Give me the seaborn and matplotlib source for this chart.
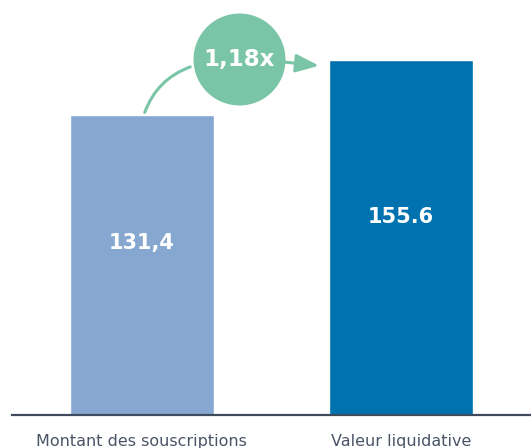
import matplotlib.pyplot as plt
import seaborn as sns
import pandas as pd

# data
categories = ["Montant des souscriptions", "Valeur liquidative"]
values = [131.4, 155.6]
value_labels = ["131,4", "155.6"]
ratio_label = "1,18x"
bar_colors = ["#86a8d0", "#0072b0"]
green = "#7ac5a7"

df = pd.DataFrame({"cat": categories, "val": values})

sns.set_style("white")
plt.rcParams['font.family'] = ['DejaVu Sans']

fig = plt.figure(figsize=(5.31, 4.48), dpi=100)
ax = fig.add_axes([12 / 531, 33 / 448, 1 - 12 / 531, 415 / 448])

sns.barplot(data=df, x="cat", y="val", hue="cat", palette=bar_colors,
            width=0.556, legend=False, ax=ax, saturation=1)

ax.set_xlim(-0.5, 1.5)
ax.set_ylim(0, 181.8)
ax.set_xlabel("")
ax.set_ylabel("")
ax.set_yticks([])
ax.tick_params(axis="x", length=0, pad=14, labelsize=11.5, labelcolor="#4a5466")
for s in ["top", "right", "left"]:
    ax.spines[s].set_visible(False)
ax.spines["bottom"].set_color("#3f4b5c")
ax.spines["bottom"].set_linewidth(1.6)

# value labels inside bars
label_y = [values[0] * 0.573, values[1] * 0.557]
for i, (v, lab) in enumerate(zip(values, value_labels)):
    ax.text(i, label_y[i], lab, ha="center", va="center", color="white",
            fontsize=15, fontweight="bold")

# ratio bubble and arrows
cx, cy = 0.3745, 155.9
ax.annotate("", xy=(0.197, 152.9), xytext=(0.008, values[0]),
            arrowprops=dict(arrowstyle="-", color=green, lw=2.2,
                            connectionstyle="arc3,rad=-0.25"))
ax.annotate("", xy=(0.683, 153.0), xytext=(0.55, 154.6),
            arrowprops=dict(arrowstyle="-|>,head_length=1.4,head_width=0.55",
                            color=green, lw=2.2, shrinkA=0, shrinkB=0))
ax.scatter([cx], [cy], s=4385, color=green, zorder=5, linewidths=0)
ax.text(cx, cy, ratio_label, ha="center", va="center", color="white",
        fontsize=16.5, fontweight="bold", zorder=6)

fig.savefig("out.png", dpi=100)
